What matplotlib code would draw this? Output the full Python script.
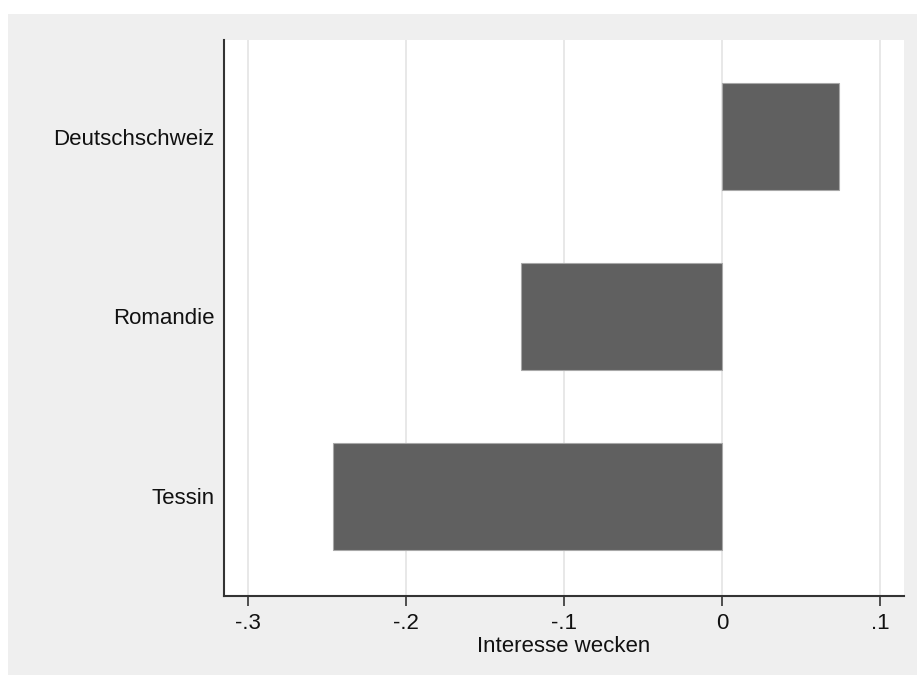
import numpy as np
import matplotlib
matplotlib.use('Agg')
import matplotlib.pyplot as plt
from matplotlib.patches import Rectangle

regions = ["Tessin", "Romandie", "Deutschschweiz"]
values = [-0.246, -0.127, 0.074]
xticks = [-0.3, -0.2, -0.1, 0, 0.1]
xticklabels = ["-.3", "-.2", "-.1", "0", ".1"]

plt.rcParams['font.family'] = ['Liberation Sans', 'DejaVu Sans']

fig = plt.figure(figsize=(9.17, 6.75), dpi=100, facecolor='white')
# gray Stata-like background panel
fig.patches.append(Rectangle((8 / 917, 0), 1, 1 - 14 / 675, transform=fig.transFigure,
                             facecolor='#efefef', edgecolor='none', zorder=-10))

ax = fig.add_axes([224 / 917, 79 / 675, 680 / 917, 556 / 675])
ax.set_facecolor('white')

y = np.arange(len(regions))
ax.barh(y, values, height=0.596, color='#606060', edgecolor='#a8a8a8', linewidth=0.8, zorder=3)

ax.set_xlim(-0.3152, 0.1152)
ax.set_ylim(-0.557, 2.54)
ax.set_xticks(xticks)
ax.set_xticklabels(xticklabels)
ax.set_yticks(y)
ax.set_yticklabels(regions)
ax.tick_params(axis='x', length=7, width=1.2, color='#333333', pad=5, labelsize=16, labelcolor='#111111')
ax.tick_params(axis='y', length=0, pad=7, labelsize=16, labelcolor='#111111')

ax.grid(True, axis='x', color='#e6e6e6', linewidth=1.3, zorder=0)
ax.set_axisbelow(True)

for s in ['top', 'right']:
    ax.spines[s].set_visible(False)
for s in ['left', 'bottom']:
    ax.spines[s].set_color('#333333')
    ax.spines[s].set_linewidth(1.5)

ax.set_xlabel("Interesse wecken", fontsize=16, color='#111111', labelpad=2)

fig.savefig("out.png", dpi=100, facecolor=fig.get_facecolor())
